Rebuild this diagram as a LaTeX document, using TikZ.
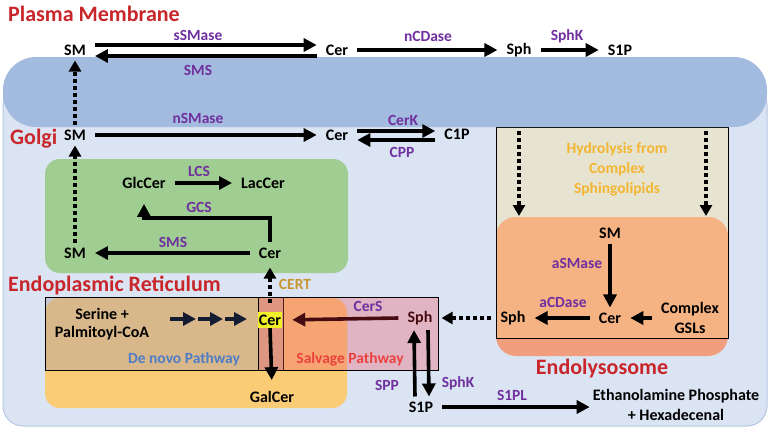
\documentclass[tikz,border=0pt]{standalone}
\usepackage{fontspec}
\setmainfont{Carlito}
\usetikzlibrary{arrows.meta}
\definecolor{cellc}{RGB}{219,228,242}
\definecolor{cellb}{RGB}{180,198,228}
\definecolor{bandc}{RGB}{163,187,222}
\definecolor{greenc}{RGB}{160,205,145}
\definecolor{erc}{RGB}{250,204,118}
\definecolor{dnovl}{RGB}{167,153,172}
\definecolor{svovl}{RGB}{236,91,108}
\definecolor{beigec}{RGB}{230,228,208}
\definecolor{salmonc}{RGB}{240,158,125}
\definecolor{orangec}{RGB}{245,178,131}
\definecolor{titlec}{RGB}{200,38,42}
\definecolor{enzc}{RGB}{112,48,160}
\definecolor{certc}{RGB}{200,150,50}
\definecolor{hydc}{RGB}{244,182,50}
\definecolor{denovoc}{RGB}{80,125,200}
\definecolor{salvc}{RGB}{235,65,60}
\definecolor{maroonc}{RGB}{70,12,18}
\definecolor{navyc}{RGB}{20,28,50}
\definecolor{hlc}{RGB}{240,240,40}
\begin{document}
\begin{tikzpicture}[x=1pt,y=-1pt,
  mol/.style={font=\fontsize{16}{19}\selectfont\bfseries, inner xsep=9pt, inner ysep=5pt},
  enz/.style={font=\fontsize{15.5}{19}\selectfont\bfseries, text=enzc, inner sep=1pt},
  titl/.style={font=\fontsize{22}{26}\selectfont\bfseries, text=titlec, inner sep=0pt},
  pathl/.style={font=\fontsize{15.5}{19}\selectfont\bfseries, inner sep=1pt},
  arr/.style={line width=3.6pt, -{Triangle[length=13pt,width=13pt]}},
  dotarr/.style={line width=3.5pt, dash pattern=on 4pt off 3pt, -{Triangle[length=11pt,width=12pt]}},
  cerbox/.style={fill=hlc, minimum width=24pt, minimum height=16pt, inner sep=0pt, font=\fontsize{16}{19}\selectfont\bfseries}
]
\useasboundingbox (0,0) rectangle (772,434);
% cell
\fill[cellc, draw=cellb, line width=1pt, rounded corners=20pt] (3,85) rectangle (767,426);
% golgi green
\fill[greenc, rounded corners=15pt] (45,159) rectangle (348,273);
% ER
\fill[erc, rounded corners=15pt] (45,298) rectangle (347,408);
\path[fill=dnovl, fill opacity=0.4, draw=black, line width=0.8pt] (45,297) rectangle (283,370);
\path[fill=svovl, fill opacity=0.35, draw=black, line width=0.8pt] (258,297) rectangle (438,370);
% endolysosome
\fill[beigec] (496,127) rectangle (728,338);
\fill[salmonc, rounded corners=20pt] (496,217) rectangle (728,356);
\begin{scope}
\clip (496,127) rectangle (728,338);
\fill[orangec, rounded corners=20pt] (496,217) rectangle (728,356);
\end{scope}
\draw[black, line width=0.8pt] (496,127) rectangle (728,338);
% plasma membrane band
\fill[bandc, rounded corners=33pt] (3,57) rectangle (767,127);

% titles
\node[titl, anchor=west] (tPM) at (8,14) {Plasma Membrane};
\node[titl, anchor=west] (tG) at (10,139) {Golgi};
\node[titl, anchor=west] (tER) at (8,285) {Endoplasmic Reticulum};
\node[titl] (tEL) at (602,369) {Endolysosome};

% plasma membrane row
\node[mol] (smPM) at (75,50) {SM};
\node[mol] (cerPM) at (337,50) {Cer};
\node[mol] (sphPM) at (519,50) {Sph};
\node[mol] (s1pPM) at (620,50) {S1P};
\draw[arr] ([yshift=5pt]smPM.east) -- ([yshift=5pt]cerPM.west);
\draw[arr] ([yshift=-6pt]cerPM.west) -- ([yshift=-6pt]smPM.east);
\draw[arr] (cerPM.east) -- (sphPM.west);
\draw[arr] (sphPM.east) -- (s1pPM.west);
\node[enz] (sSMase) at (198,35) {sSMase};
\node[enz] (SMSpm) at (198,70) {SMS};
\node[enz] (nCDase) at (428,36) {nCDase};
\node[enz] (SphKpm) at (567,36) {SphK};

% Golgi row
\node[mol] (smG) at (75,135) {SM};
\node[mol] (cerG) at (337,135) {Cer};
\node[mol] (c1p) at (457,134) {C1P};
\draw[arr] (smG.east) -- (cerG.west);
\draw[arr] ([yshift=4pt]cerG.east) -- ([yshift=4pt]cerG.east -| c1p.west);
\draw[arr] ([yshift=-5pt]cerG.east -| c1p.west) -- ([yshift=-5pt]cerG.east);
\node[enz] (nSMase) at (198,118) {nSMase};
\node[enz] (CerK) at (403,120) {CerK};
\node[enz] (CPP) at (402,152) {CPP};
\draw[dotarr] (smG.north) -- (smPM.south);

% green compartment
\node[mol] (glc) at (144,183) {GlcCer};
\node[mol] (lac) at (263,183) {LacCer};
\node[mol] (smGr) at (75,253) {SM};
\node[mol] (cerGr) at (270,253) {Cer};
\coordinate (gcsb) at (0,218);
\draw[arr] (glc.east) -- (lac.west);
\draw[arr] (cerGr.west) -- (smGr.east);
\draw[arr, shorten >=10pt] (cerGr.north) |- (glc.south |- gcsb) -- (glc.south);
\node[enz] (LCS) at (199,171) {LCS};
\node[enz] (GCS) at (199,207) {GCS};
\node[enz] (SMSg) at (173,242) {SMS};
\draw[dotarr] (smGr.north) -- (smG.south);

% ER
\node[mol, align=center, font=\fontsize{16}{18}\selectfont\bfseries] (ser) at (102,324) {Serine +\\Palmitoyl-CoA};
\node[cerbox] (cerER) at (270,320) {Cer};
\coordinate (p1) at (170,319);
\coordinate (p2) at (196,319);
\coordinate (p3) at (198,319);
\coordinate (p4) at (223,319);
\coordinate (p5) at (225,319);
\coordinate (p6) at (247,319);
\draw[arr, draw=navyc] (p1) -- (p2);
\draw[arr, draw=navyc] (p3) -- (p4);
\draw[arr, draw=navyc] (p5) -- (p6);
\node[mol, text=maroonc] (sphER) at (420,318) {Sph};
\draw[arr, draw=maroonc, shorten >=10pt] (sphER.west) -- (cerER.east);
\node[mol] (gal) at (272,397) {GalCer};
\draw[arr, shorten >=6pt] (cerER.south) -- (gal.north);
\draw[dotarr, shorten <=9pt, shorten >=4pt] (cerER.north) -- (cerGr.south);
\node[enz, text=certc] (CERT) at (295,284) {CERT};
\node[enz] (CerS) at (368,306) {CerS};
\node[pathl, text=denovoc] (dn) at (184,359) {De novo Pathway};
\node[pathl, text=salvc] (sv) at (350,359) {Salvage Pathway};

% S1P
\node[mol] (s1p) at (421,407) {S1P};
\draw[arr] ([xshift=-6pt]s1p.north) -- ([xshift=-6pt]sphER.south);
\draw[arr] ([xshift=8pt]sphER.south) -- ([xshift=8pt]s1p.north);
\node[enz] (SPP) at (387,385) {SPP};
\node[enz] (SphKer) at (458,383) {SphK};
\node[mol, align=center, inner xsep=3pt, font=\fontsize{16}{20}\selectfont\bfseries] (eth) at (676,405) {Ethanolamine Phosphate\\+ Hexadecenal};
\draw[arr] (s1p.east) -- (s1p.east -| eth.west);
\node[enz] (S1PL) at (512,395) {S1PL};

% endolysosome
\node[font=\fontsize{15.5}{20}\selectfont\bfseries, text=hydc, align=center] (hyd) at (617,169) {Hydrolysis from\\Complex\\Sphingolipids};
\coordinate (h1a) at (519,131);
\coordinate (h1b) at (519,216);
\coordinate (h2a) at (706,131);
\coordinate (h2b) at (706,216);
\draw[dotarr] (h1a) -- (h1b);
\draw[dotarr] (h2a) -- (h2b);
\node[mol] (smE) at (610,233) {SM};
\node[mol] (cerE) at (610,318) {Cer};
\node[mol] (sphE) at (513,318) {Sph};
\node[mol, align=center, font=\fontsize{16}{20}\selectfont\bfseries] (gsl) at (690,318) {Complex\\GSLs};
\draw[arr] (smE.south) -- (cerE.north);
\draw[arr] (cerE.west) -- (sphE.east);
\draw[arr] (gsl.west) -- (cerE.east);
\draw[dotarr] (sphE.west) -- (sphER.east);
\node[enz] (aSMase) at (577,263) {aSMase};
\node[enz] (aCDase) at (563,302) {aCDase};
\end{tikzpicture}
\end{document}
